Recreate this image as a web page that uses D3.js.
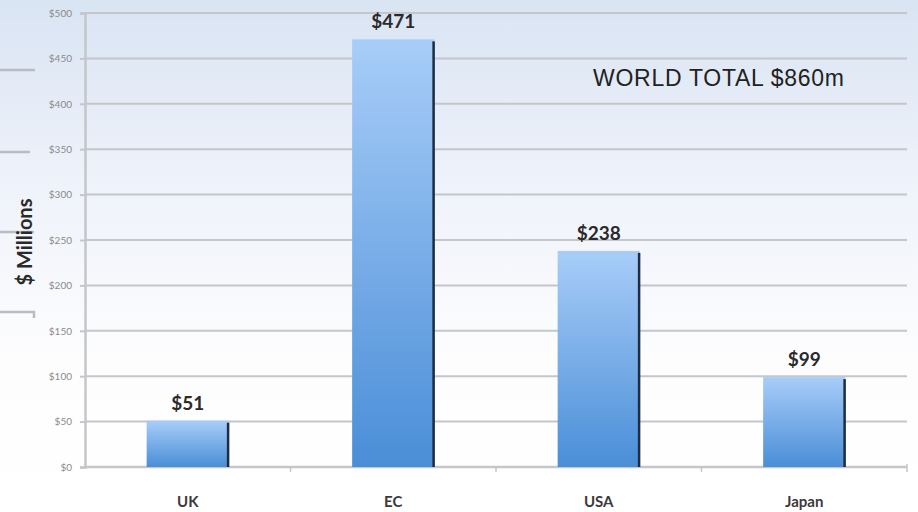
<!DOCTYPE html>
<html lang="en">
<head>
    <meta charset="UTF-8">
    <title>Market by region</title>
    <script src="https://d3js.org/d3.v7.min.js"></script>
    <style>
        body { margin: 0; background: #fff; }
        svg { display: block; }
        .tick-label { font-family: Lato, "Open Sans", sans-serif; font-size: 10px; fill: #8a8a8a; }
        .cat-label { font-family: Lato, "Open Sans", sans-serif; font-size: 15px; font-weight: bold; fill: #3a3a3a; }
        .val-label { font-family: Lato, "Open Sans", sans-serif; font-size: 19px; font-weight: bold; fill: #2a2a2a; }
        .axis-label { font-family: Lato, "Open Sans", sans-serif; font-size: 20px; font-weight: bold; fill: #2a2a2a; }
        .total { font-family: "Liberation Sans", Arial, sans-serif; font-size: 23px; fill: #222; }
    </style>
</head>
<body>
<svg width="918" height="512"></svg>
<script>
    const regions = ["UK", "EC", "USA", "Japan"];
    const values = [51, 471, 238, 99];
    const yTicks = [0, 50, 100, 150, 200, 250, 300, 350, 400, 450, 500];
    const totalLabel = "WORLD TOTAL $860m";

    const svg = d3.select("svg");
    const defs = svg.append("defs");

    // slide background
    const bg = defs.append("linearGradient").attr("id", "bg")
        .attr("x1", 0).attr("y1", 0).attr("x2", 0).attr("y2", 1);
    bg.append("stop").attr("offset", "0%").attr("stop-color", "#d9e4f3");
    bg.append("stop").attr("offset", "35%").attr("stop-color", "#eef2fa");
    bg.append("stop").attr("offset", "70%").attr("stop-color", "#fdfdfe");
    bg.append("stop").attr("offset", "100%").attr("stop-color", "#ffffff");
    svg.append("rect").attr("width", 918).attr("height", 512).attr("fill", "url(#bg)");

    const barGrad = defs.append("linearGradient").attr("id", "bar")
        .attr("x1", 0).attr("y1", 0).attr("x2", 0).attr("y2", 1);
    barGrad.append("stop").attr("offset", "0%").attr("stop-color", "#a8cdf8");
    barGrad.append("stop").attr("offset", "100%").attr("stop-color", "#4a8ed7");

    // leftover slide lines on the left edge
    [[70, 35], [152, 30], [232, 34]].forEach(([yy, w]) => {
        svg.append("line").attr("x1", 0).attr("x2", w).attr("y1", yy).attr("y2", yy)
            .attr("stroke", "#b9bcc2").attr("stroke-width", 2.5);
    });
    svg.append("path").attr("d", "M0,312 H34 V318").attr("fill", "none")
        .attr("stroke", "#b9bcc2").attr("stroke-width", 2.5);

    const plotLeft = 85, plotRight = 907, plotTop = 13, plotBottom = 467;

    const x = d3.scaleBand().domain(regions).range([plotLeft, plotRight])
        .paddingInner(0.6).paddingOuter(0.3);
    const y = d3.scaleLinear().domain([0, 500]).range([plotBottom, plotTop]);

    // gridlines
    svg.append("g").selectAll("line").data(yTicks.filter(d => d > 0)).join("line")
        .attr("x1", plotLeft).attr("x2", plotRight)
        .attr("y1", d => y(d)).attr("y2", d => y(d))
        .attr("stroke", "#c4c6c9").attr("stroke-width", 2);

    // y axis
    const yAxis = svg.append("g").attr("transform", `translate(${plotLeft},0)`)
        .call(d3.axisLeft(y).tickValues(yTicks).tickSize(5).tickFormat(d => "$" + d));
    yAxis.select(".domain").attr("stroke", "#c4c6c9").attr("stroke-width", 2.5);
    yAxis.selectAll(".tick line").attr("stroke", "#c4c6c9").attr("stroke-width", 2);
    yAxis.selectAll(".tick text").attr("class", "tick-label").attr("x", -13);

    // x axis
    svg.append("line").attr("x1", plotLeft).attr("x2", plotRight).attr("y1", plotBottom).attr("y2", plotBottom)
        .attr("stroke", "#c4c6c9").attr("stroke-width", 2.5);
    svg.append("g").selectAll("line").data(regions.slice(1)).join("line")
        .attr("x1", d => x(d) - x.bandwidth() * 0.75).attr("x2", d => x(d) - x.bandwidth() * 0.75)
        .attr("y1", plotBottom).attr("y2", plotBottom + 5)
        .attr("stroke", "#c4c6c9").attr("stroke-width", 1.5);
    svg.append("line").attr("x1", plotRight).attr("x2", plotRight).attr("y1", plotBottom - 3).attr("y2", plotBottom + 5)
        .attr("stroke", "#c4c6c9").attr("stroke-width", 1.5);

    // bars
    const bars = svg.append("g").selectAll("g").data(regions).join("g");
    bars.append("rect")
        .attr("x", d => x(d))
        .attr("y", (d, i) => y(values[i]))
        .attr("width", x.bandwidth())
        .attr("height", (d, i) => plotBottom - y(values[i]))
        .attr("fill", "url(#bar)");
    bars.append("rect")
        .attr("x", d => x(d) + x.bandwidth() - 2)
        .attr("y", (d, i) => y(values[i]) + 2)
        .attr("width", 2.5)
        .attr("height", (d, i) => plotBottom - y(values[i]) - 2)
        .attr("fill", "#1e2d42");

    // value labels
    svg.append("g").selectAll("text").data(regions).join("text")
        .attr("class", "val-label")
        .attr("x", d => x(d) + x.bandwidth() / 2)
        .attr("y", (d, i) => y(values[i]) - 11)
        .attr("text-anchor", "middle")
        .text((d, i) => "$" + values[i]);

    // category labels
    svg.append("g").selectAll("text").data(regions).join("text")
        .attr("class", "cat-label")
        .attr("x", d => x(d) + x.bandwidth() / 2)
        .attr("y", 507)
        .attr("text-anchor", "middle")
        .text(d => d);

    svg.append("text").attr("class", "axis-label")
        .attr("transform", "translate(32,242) rotate(-90)")
        .attr("text-anchor", "middle")
        .text("$ Millions");

    svg.append("text").attr("class", "total")
        .attr("x", 593).attr("y", 86)
        .attr("textLength", 251)
        .text(totalLabel);
</script>
</body>
</html>
